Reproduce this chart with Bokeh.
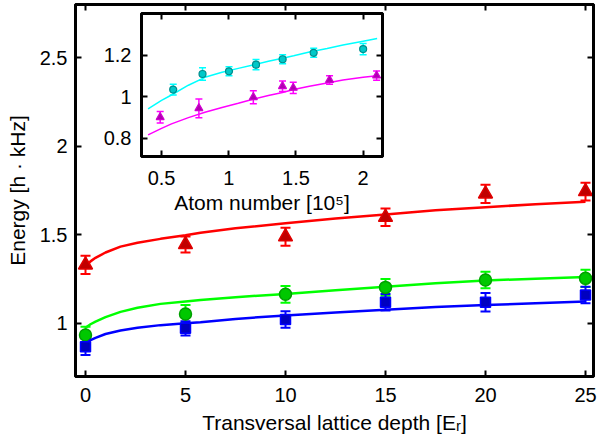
from bokeh.plotting import figure
from bokeh.models import (Range1d, LinearAxis, FixedTicker, Whisker, TeeHead,
                          ColumnDataSource, CustomJSTickFormatter)
from bokeh.embed import file_html
from bokeh.resources import INLINE

# ---------------- main panel data ----------------
depth = [0, 5, 10, 15, 20, 25]
e_red = [1.33, 1.445, 1.489, 1.599, 1.731, 1.744]
err_red = [0.052, 0.045, 0.051, 0.05, 0.052, 0.05]
e_green = [0.934, 1.053, 1.164, 1.203, 1.245, 1.254]
err_green = [0.047, 0.05, 0.047, 0.047, 0.047, 0.049]
e_blue = [0.868, 0.972, 1.022, 1.119, 1.119, 1.16]
err_blue = [0.047, 0.04, 0.047, 0.047, 0.052, 0.047]

fit_depth = [0, 0.25, 0.5, 1, 1.75, 2.6, 3.75, 5, 5.75, 7.5, 10, 12.5, 15, 17.5, 20, 22.5, 25]
fit_red = [1.32, 1.35, 1.37, 1.40, 1.433, 1.455, 1.477, 1.497, 1.512, 1.537, 1.565,
           1.592, 1.615, 1.638, 1.656, 1.672, 1.686]
fit_green = [0.975, 0.995, 1.01, 1.035, 1.065, 1.088, 1.11, 1.124, 1.132, 1.148, 1.166,
             1.187, 1.207, 1.226, 1.242, 1.252, 1.262]
fit_blue = [0.885, 0.905, 0.918, 0.94, 0.96, 0.975, 0.99, 1.0, 1.006, 1.025, 1.045,
            1.061, 1.077, 1.092, 1.103, 1.113, 1.123]

main_xticks = [0, 5, 10, 15, 20, 25]
main_yticks = [1, 1.5, 2, 2.5]

# ---------------- inset data ----------------
n_cyan = [0.587, 0.805, 1.002, 1.203, 1.401, 1.632, 2.0]
e_cyan = [1.034, 1.109, 1.122, 1.154, 1.18, 1.211, 1.229]
err_cyan = [0.026, 0.03, 0.022, 0.025, 0.022, 0.022, 0.027]
n_mag = [0.49, 0.778, 1.183, 1.40, 1.48, 1.75, 2.10]
e_mag = [0.901, 0.944, 0.997, 1.05, 1.042, 1.08, 1.101]
err_mag = [0.028, 0.045, 0.031, 0.025, 0.027, 0.02, 0.022]

fit_n = [0.40, 0.50, 0.574, 0.70, 0.823, 0.95, 1.071, 1.18, 1.295, 1.40, 1.483,
         1.60, 1.732, 1.85, 2.0, 2.104]
fit_cyan = [0.941, 0.982, 1.008, 1.055, 1.093, 1.117, 1.136, 1.152, 1.17, 1.185,
            1.197, 1.215, 1.232, 1.248, 1.267, 1.28]
fit_mag = [0.816, 0.847, 0.869, 0.899, 0.925, 0.948, 0.968, 0.987, 1.005, 1.02,
           1.034, 1.05, 1.066, 1.08, 1.093, 1.101]

inset_xticks = [0.5, 1, 1.5, 2]
inset_yticks = [0.8, 1, 1.2]

FONT = "Liberation Sans"
TICK_FS = "20px"
LABEL_FS = "21px"
fmt = CustomJSTickFormatter(code="return String(Math.round(tick*10)/10)")
blank = CustomJSTickFormatter(code="return ''")


def style_axes(p, xticks, yticks, lw=3):
    for ax in p.below + p.left:
        ax.major_tick_in = 6
        ax.major_tick_out = 0
        ax.minor_tick_in = 0
        ax.minor_tick_out = 0
        ax.axis_line_width = lw
        ax.major_tick_line_width = 2
        ax.major_label_text_font = FONT
        ax.major_label_text_font_size = TICK_FS
        ax.major_label_text_color = "black"
        ax.axis_label_text_font = FONT
        ax.axis_label_text_font_size = LABEL_FS
        ax.axis_label_text_font_style = "normal"
        ax.axis_label_text_color = "black"
        ax.formatter = fmt
    p.below[0].ticker = FixedTicker(ticks=xticks)
    p.left[0].ticker = FixedTicker(ticks=yticks)
    for loc, ticks in (("above", xticks), ("right", yticks)):
        ax = LinearAxis(ticker=FixedTicker(ticks=ticks), formatter=blank,
                        major_label_text_font_size="1px", major_label_text_color=None,
                        major_label_standoff=0, major_tick_in=6, major_tick_out=0,
                        minor_tick_in=0, minor_tick_out=0, axis_line_width=lw,
                        major_tick_line_width=2)
        p.add_layout(ax, loc)
    p.xgrid.visible = False
    p.ygrid.visible = False
    p.outline_line_color = "black"
    p.outline_line_width = lw


# ---------------- main figure ----------------
p = figure(width=597, height=443, output_backend="svg", toolbar_location=None,
           x_range=Range1d(-0.5, 25.4), y_range=Range1d(0.7, 2.8),
           min_border_left=75, min_border_right=4, min_border_top=4, min_border_bottom=67,
           background_fill_color="white", border_fill_color="white")
style_axes(p, main_xticks, main_yticks)
p.below[0].axis_label = "Transversal lattice depth [E\u1d63]"
p.left[0].axis_label = "Energy [h \u00b7 kHz]"
p.below[0].major_label_standoff = 11
p.below[0].axis_label_standoff = 6
p.left[0].major_label_standoff = 8
p.left[0].axis_label_standoff = 8

series = [
    (e_red, err_red, fit_red, "#ff0000", "triangle", "#c00000", "#e00000", 14),
    (e_green, err_green, fit_green, "#00ff00", "circle", "#00c800", "#00a000", 12),
    (e_blue, err_blue, fit_blue, "#0000ff", "square", "#0000c0", "#0000ff", 10),
]
for vals, errs, fit, lc, mk, fc, ec, sz in series:
    p.line(fit_depth, fit, line_color=lc, line_width=2.5)
    src = ColumnDataSource(dict(x=depth, y=vals,
                                lo=[v - e for v, e in zip(vals, errs)],
                                hi=[v + e for v, e in zip(vals, errs)]))
    p.add_layout(Whisker(source=src, base="x", lower="lo", upper="hi",
                         line_color=lc, line_width=2,
                         upper_head=TeeHead(size=10, line_color=lc, line_width=2),
                         lower_head=TeeHead(size=10, line_color=lc, line_width=2)))
    p.scatter("x", "y", source=src, marker=mk, size=sz, fill_color=fc,
              line_color=ec, line_width=1.5)

# ---------------- inset figure ----------------
q = figure(frame_width=241, frame_height=143, output_backend="svg", toolbar_location=None,
           x_range=Range1d(0.351, 2.144), y_range=Range1d(0.712, 1.40),
           min_border_left=41, min_border_right=4, min_border_top=4, min_border_bottom=62,
           background_fill_color="white", border_fill_color=None)
style_axes(q, inset_xticks, inset_yticks)
q.below[0].axis_label = "Atom number [10\u2075]"
q.below[0].major_label_standoff = 14
q.below[0].axis_label_standoff = 3
q.left[0].major_label_standoff = 10

inset_series = [
    (n_cyan, e_cyan, err_cyan, fit_cyan, "#00ffff", "circle", "#00c8c8", "#008c8c", 7),
    (n_mag, e_mag, err_mag, fit_mag, "#ff00ff", "triangle", "#b000b0", "#d000d0", 8),
]
for xs, vals, errs, fit, lc, mk, fc, ec, sz in inset_series:
    q.line(fit_n, fit, line_color=lc, line_width=1.5)
    src = ColumnDataSource(dict(x=xs, y=vals,
                                lo=[v - e for v, e in zip(vals, errs)],
                                hi=[v + e for v, e in zip(vals, errs)]))
    q.add_layout(Whisker(source=src, base="x", lower="lo", upper="hi",
                         line_color=lc, line_width=1.5,
                         upper_head=TeeHead(size=7, line_color=lc, line_width=1.5),
                         lower_head=TeeHead(size=7, line_color=lc, line_width=1.5)))
    q.scatter("x", "y", source=src, marker=mk, size=sz, fill_color=fc,
              line_color=ec, line_width=1.2)

q.styles = {"position": "absolute", "left": "100px", "top": "9px", "z-index": "10"}

open("out.html", "w").write(file_html([p, q], INLINE))
